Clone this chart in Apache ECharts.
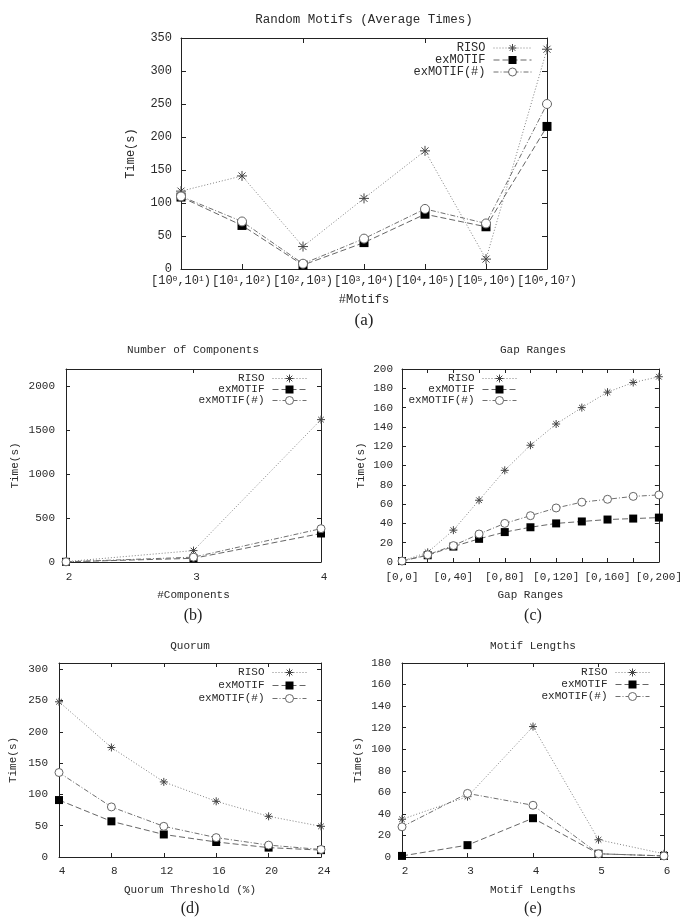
<!DOCTYPE html>
<html><head><meta charset="utf-8">
<script src="https://cdn.jsdelivr.net/npm/echarts@6/dist/echarts.min.js"></script>
<style>html,body{margin:0;padding:0;background:#fff}#c{width:685px;height:920px}</style>
</head><body><div id="c"></div>
<script>
// ---------- data ----------
const seriesNames = ['RISO', 'exMOTIF', 'exMOTIF(#)'];

// (a) Random Motifs (Average Times)
const motifCats = ['[10^0,10^1)', '[10^1,10^2)', '[10^2,10^3)', '[10^3,10^4)', '[10^4,10^5)', '[10^5,10^6)', '[10^6,10^7)'];
const motifRISO = [118, 141, 34, 107, 179, 15, 333];
const motifEx = [109, 66, 6, 40, 83, 64, 216];
const motifExH = [110, 72, 8, 46, 91, 69, 250];

// (b) Number of Components
const compX = [2, 3, 4];
const compRISO = [4, 130, 1623];
const compEx = [2, 42, 325];
const compExH = [2, 55, 380];

// (c) Gap Ranges
const gapX = [0, 20, 40, 60, 80, 100, 120, 140, 160, 180, 200];
const gapRISO = [1, 10, 33, 64, 95, 121, 143, 160, 176, 186, 192];
const gapEx = [1, 7, 16, 24, 31, 36, 40, 42, 44, 45, 46];
const gapExH = [1, 7.5, 17, 29, 40, 48, 56, 62, 65, 68, 69.5];
const gapTickLabels = ['[0,0]', '[0,40]', '[0,80]', '[0,120]', '[0,160]', '[0,200]'];

// (d) Quorum
const quorumX = [4, 8, 12, 16, 20, 24];
const quorumRISO = [248, 175, 120, 89, 65, 49];
const quorumEx = [91, 57, 36, 24, 15, 11];
const quorumExH = [135, 80, 49, 31, 19, 12];

// (e) Motif Lengths
const lenX = [2, 3, 4, 5, 6];
const lenRISO = [35, 56, 121, 16, 3];
const lenEx = [1, 11, 36, 3, 1];
const lenExH = [28, 59, 48, 3, 1];

// ---------- styling ----------
const MONO = '"Liberation Mono", "DejaVu Sans Mono", monospace';
const SERIF = '"Liberation Serif", "DejaVu Serif", serif';
const TXT = '#2a2a2a';
const AX = '#222';
const asterisk = 'path://M5,0L5,10M0,5L10,5M1.5,1.5L8.5,8.5M8.5,1.5L1.5,8.5';

function seriesStyle(name, big) {
  if (name === 'RISO') return {
    symbol: asterisk, symbolSize: big ? 10 : 8,
    itemStyle: { color: 'transparent', borderColor: '#444', borderWidth: 1 },
    lineStyle: { color: '#808080', width: 1, type: [1, 2] }
  };
  if (name === 'exMOTIF') return {
    symbol: 'rect', symbolSize: big ? 9 : 8,
    itemStyle: { color: '#000', borderWidth: 0 },
    lineStyle: { color: '#666', width: 1, type: [6, 3] }
  };
  return {
    symbol: 'circle', symbolSize: big ? 9 : 8,
    itemStyle: { color: '#fff', borderColor: '#666', borderWidth: 1 },
    lineStyle: { color: '#707070', width: 1, type: [5, 2, 1, 2] }
  };
}

const grids = [], xAxes = [], yAxes = [], series = [], legends = [], graphics = [];
const plain = v => String(v);

function addPanel(p) {
  const gi = grids.length;
  grids.push({ left: p.grid[0], top: p.grid[1], width: p.grid[2], height: p.grid[3], containLabel: false });
  const fs = p.fs;
  const line = { show: true, onZero: false, lineStyle: { color: AX, width: 1 } };
  const tick = { show: true, inside: true, length: p.tickLen, lineStyle: { color: AX, width: 1 } };
  const xBase = Object.assign({ gridIndex: gi, splitLine: { show: false }, axisLine: line, axisTick: tick }, p.x);
  const yBase = Object.assign({ gridIndex: gi, splitLine: { show: false }, axisLine: line, axisTick: tick }, p.y);
  const xi = xAxes.length, yi = yAxes.length;
  xAxes.push(Object.assign({}, xBase, {
    position: 'bottom',
    name: p.xName, nameLocation: 'middle', nameGap: p.xNameGap,
    nameTextStyle: { fontFamily: MONO, fontSize: fs, color: TXT },
    axisLabel: Object.assign({ fontFamily: MONO, fontSize: fs, color: TXT, margin: p.xLabelMargin, formatter: plain }, p.xLabel || {})
  }));
  xAxes.push(Object.assign({}, xBase, { position: 'top', axisLabel: { show: false } }));
  yAxes.push(Object.assign({}, yBase, {
    position: 'left',
    name: 'Time(s)', nameLocation: 'middle', nameGap: p.yNameGap, nameRotate: 90,
    nameTextStyle: { fontFamily: MONO, fontSize: fs, color: TXT },
    axisLabel: Object.assign({ fontFamily: MONO, fontSize: fs, color: TXT, margin: p.yLabelMargin, formatter: plain }, p.yLabel || {})
  }));
  yAxes.push(Object.assign({}, yBase, { position: 'right', axisLabel: { show: false } }));
  p.data.forEach((vals, k) => {
    const name = seriesNames[k];
    const data = p.xs ? p.xs.map((x, i) => [x, vals[i]]) : vals;
    series.push(Object.assign({
      type: 'line', name, xAxisIndex: xi, yAxisIndex: yi, data,
      showAllSymbol: true, animation: false, z: 3 + k
    }, seriesStyle(name, p.big)));
  });
  legends.push({
    data: seriesNames, orient: 'vertical', align: 'right',
    right: p.legend[0], top: p.legend[1], itemWidth: p.legend[2], itemHeight: 10,
    itemGap: p.legend[3], padding: 0, selectedMode: false,
    lineStyle: { width: 1 },
    itemStyle: { borderWidth: 1 },
    textStyle: { fontFamily: MONO, fontSize: fs, color: TXT, padding: [0, 3, 0, 0] }
  });
  graphics.push({ type: 'text', x: p.titlePos[0], y: p.titlePos[1],
    style: { text: p.title, fontFamily: MONO, fontSize: p.titleFs, fill: TXT, align: 'center', verticalAlign: 'middle' } });
  graphics.push({ type: 'text', x: p.capPos[0], y: p.capPos[1],
    style: { text: p.caption, fontFamily: SERIF, fontSize: p.capFs, fill: '#222', align: 'center', verticalAlign: 'middle' } });
}

// (a)
addPanel({
  grid: [181, 38, 366, 231], fs: 12, titleFs: 12.5, capFs: 17, big: true, tickLen: 5,
  title: 'Random Motifs (Average Times)', titlePos: [364, 20], caption: '(a)', capPos: [364, 321],
  x: { type: 'category', data: motifCats, boundaryGap: false },
  xLabel: {
    interval: 0, margin: 6,
    formatter: v => v.replace(/\^(\d)/g, '{s|$1}'),
    rich: { s: { fontFamily: MONO, fontSize: 8, color: TXT, verticalAlign: 'top', lineHeight: 8 } }
  },
  y: { type: 'value', min: 0, max: 350, interval: 50 },
  xName: '#Motifs', xNameGap: 25, xLabelMargin: 6, yNameGap: 44, yLabelMargin: 9,
  data: [motifRISO, motifEx, motifExH],
  legend: [153, 42, 38, 0]
});

// (b)
addPanel({
  grid: [66, 369, 255, 193], fs: 11, titleFs: 11, capFs: 16, tickLen: 4,
  title: 'Number of Components', titlePos: [193, 350], caption: '(b)', capPos: [193, 616],
  x: { type: 'value', min: 2, max: 4, interval: 1 },
  xLabel: { padding: [0, 0, 0, 6] },
  y: { type: 'value', min: 0, max: 2200, interval: 500 },
  yLabel: { showMaxLabel: false },
  xName: '#Components', xNameGap: 28, xLabelMargin: 10, yNameGap: 45, yLabelMargin: 11,
  xs: compX, data: [compRISO, compEx, compExH],
  legend: [378, 373, 34, 0]
});

// (c)
addPanel({
  grid: [402, 369, 262, 193], fs: 11, titleFs: 11, capFs: 16, tickLen: 4,
  title: 'Gap Ranges', titlePos: [533, 350], caption: '(c)', capPos: [533, 616],
  x: { type: 'value', min: 0, max: 200, interval: 20 },
  xLabel: { formatter: v => (v % 40 === 0 ? gapTickLabels[v / 40] : ''), interval: 0 },
  y: { type: 'value', min: 0, max: 200, interval: 20 },
  xName: 'Gap Ranges', xNameGap: 28, xLabelMargin: 10, yNameGap: 35, yLabelMargin: 9,
  xs: gapX, data: [gapRISO, gapEx, gapExH],
  legend: [168, 373, 34, 0]
});

// (d)
addPanel({
  grid: [59, 663, 262, 194], fs: 11, titleFs: 11, capFs: 16, tickLen: 4,
  title: 'Quorum', titlePos: [190, 646], caption: '(d)', capPos: [190, 909],
  x: { type: 'value', min: 4, max: 24, interval: 4 },
  xLabel: { padding: [0, 0, 0, 6] },
  y: { type: 'value', min: 0, max: 310, interval: 50 },
  yLabel: { showMaxLabel: false },
  xName: 'Quorum Threshold (%)', xNameGap: 28, xLabelMargin: 9, yNameGap: 40, yLabelMargin: 11,
  xs: quorumX, data: [quorumRISO, quorumEx, quorumExH],
  legend: [378, 667, 34, 2]
});

// (e)
addPanel({
  grid: [402, 663, 262, 194], fs: 11, titleFs: 11, capFs: 16, tickLen: 4,
  title: 'Motif Lengths', titlePos: [533, 646], caption: '(e)', capPos: [533, 909],
  x: { type: 'value', min: 2, max: 6, interval: 1 },
  xLabel: { padding: [0, 0, 0, 6] },
  y: { type: 'value', min: 0, max: 180, interval: 20 },
  xName: 'Motif Lengths', xNameGap: 28, xLabelMargin: 9, yNameGap: 38, yLabelMargin: 11,
  xs: lenX, data: [lenRISO, lenEx, lenExH],
  legend: [35, 667, 34, 1]
});

const chart = echarts.init(document.getElementById('c'), null, { renderer: 'canvas' });
chart.setOption({
  backgroundColor: '#fff',
  animation: false,
  grid: grids, xAxis: xAxes, yAxis: yAxes, series, legend: legends,
  graphic: graphics
});
</script></body></html>
